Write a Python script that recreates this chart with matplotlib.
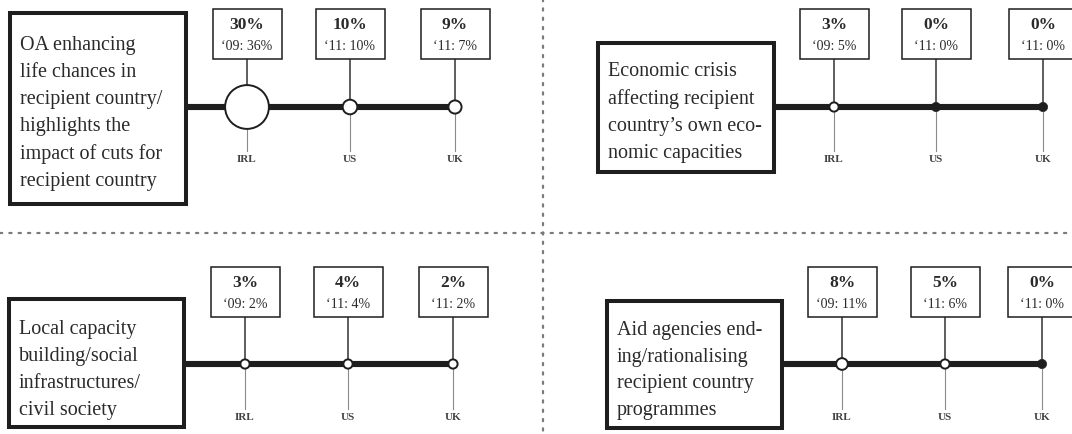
import matplotlib
matplotlib.use("Agg")
import matplotlib.pyplot as plt
from matplotlib.patches import Rectangle, Circle

# ---------------- data ----------------
countries = ["IRL", "US", "UK"]
categories = [
    "OA enhancing\nlife chances in\nrecipient country/\nhighlights the\nimpact of cuts for\nrecipient country",
    "Economic crisis\naffecting recipient\ncountry’s own eco-\nnomic capacities",
    "Local capacity\nbuilding/social\ninfrastructures/\ncivil society",
    "Aid agencies end-\ning/rationalising\nrecipient country\nprogrammes",
]
current_pct = [[30, 10, 9], [3, 0, 0], [3, 4, 2], [8, 5, 0]]
previous_year = ["09", "11", "11"]
previous_pct = [[36, 10, 7], [5, 0, 0], [2, 4, 2], [11, 6, 0]]

# ---------------- layout (pixels) ----------------
panels = [
    dict(box=(10, 14, 186, 205), line_y=108, xs=(247, 350, 455), vtop=10, label_y=160, toff=4),
    dict(box=(598, 44, 774, 173), line_y=108, xs=(834, 936, 1043), vtop=10, label_y=160, toff=4),
    dict(box=(9, 300, 184, 428), line_y=365, xs=(245, 348, 453), vtop=268, label_y=418, toff=6),
    dict(box=(607, 302, 782, 429), line_y=365, xs=(842, 945, 1042), vtop=268, label_y=418, toff=5),
]
VW, VH = 69, 50
R_PER_PCT = 0.73
R_MIN = 4.6
R_ZERO = 4.6

SERIF = ["Liberation Serif", "DejaVu Serif"]
DARK = "#1e1e1e"
TEXT = "#2a2a2a"

fig = plt.figure(figsize=(10.72, 4.35), dpi=100)
ax = fig.add_axes([0, 0, 1, 1])
ax.set_xlim(0, 1072)
ax.set_ylim(435, 0)
ax.axis("off")

# dotted separators
ax.plot([543, 543], [0, 435], color="#7a7a7a", lw=1.6,
        linestyle=(0, (1.0, 3.2)), dash_capstyle="round", zorder=0)
ax.plot([0, 1072], [234, 234], color="#7a7a7a", lw=1.6,
        linestyle=(0, (1.0, 3.2)), dash_capstyle="round", zorder=0)

for i, p in enumerate(panels):
    x0, y0, x1, y1 = p["box"]
    ly = p["line_y"]
    # category box
    ax.add_patch(Rectangle((x0, y0), x1 - x0, y1 - y0, facecolor="white",
                           edgecolor=DARK, lw=2.9, zorder=3))
    ax.text(x0 + 10, (y0 + y1) / 2 + p["toff"], categories[i], ha="left", va="center",
            fontsize=14.5, family=SERIF, color=TEXT, linespacing=1.56, zorder=4)
    # main line
    ax.plot([x1, p["xs"][-1]], [ly, ly], color=DARK, lw=4.4,
            solid_capstyle="butt", zorder=2)
    for j, cx in enumerate(p["xs"]):
        v = current_pct[i][j]
        r = max(R_PER_PCT * v, R_MIN) if v > 0 else R_ZERO
        # value box
        bx = cx - VW / 2
        ax.add_patch(Rectangle((bx, p["vtop"]), VW, VH, facecolor="white",
                               edgecolor=DARK, lw=1.1, zorder=3))
        ax.text(cx, p["vtop"] + 15, f"{v}%", ha="center", va="center",
                fontsize=12.5, fontweight="bold", family=SERIF, color=TEXT, zorder=4)
        ax.text(cx, p["vtop"] + 37, f"‘{previous_year[j]}: {previous_pct[i][j]}%",
                ha="center", va="center", fontsize=10, family=SERIF, color=TEXT, zorder=4)
        # stems
        ax.plot([cx, cx], [p["vtop"] + VH, ly - r], color="#333333", lw=1.1, zorder=1)
        ax.plot([cx, cx], [ly + r, p["label_y"] - 8], color="#8a8a8a", lw=0.8, zorder=1)
        # marker
        if v > 0:
            ax.add_patch(Circle((cx, ly), r, facecolor="white", edgecolor=DARK,
                                lw=1.4, zorder=5))
        else:
            ax.add_patch(Circle((cx, ly), r, facecolor=DARK, edgecolor=DARK,
                                lw=0.5, zorder=5))
        ax.text(cx, p["label_y"], countries[j], ha="center", va="center",
                fontsize=8, fontweight="bold", family=SERIF, color="#444444", zorder=4)

fig.savefig("out.png", dpi=100, facecolor="white")
